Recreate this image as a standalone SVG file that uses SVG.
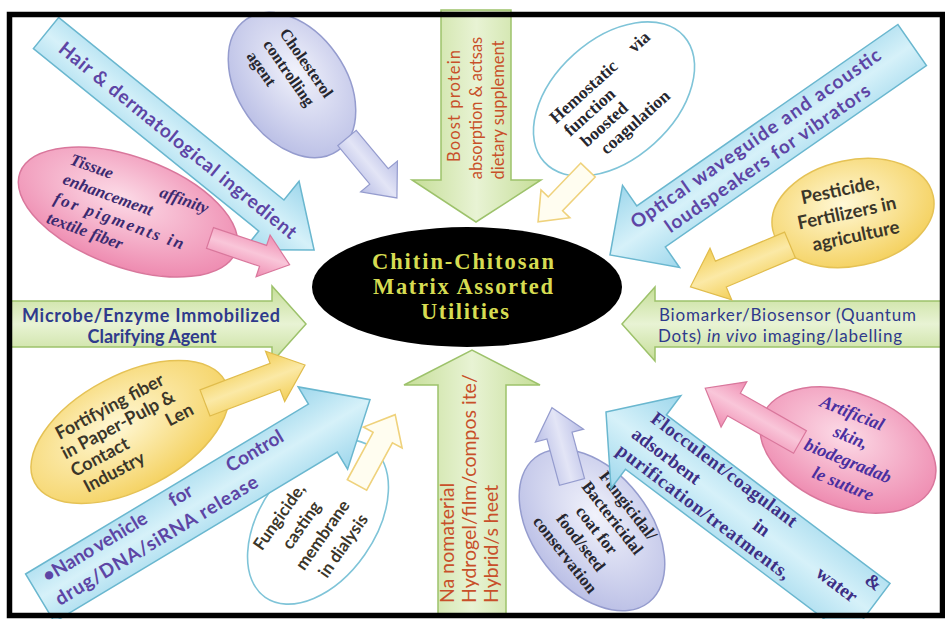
<svg xmlns="http://www.w3.org/2000/svg" width="945" height="619" viewBox="0 0 945 619">
<defs>
<linearGradient id="gBlue" x1="0" y1="0" x2="0" y2="1"><stop offset="0" stop-color="#9ed7ec"/><stop offset="0.5" stop-color="#d6f1f9"/><stop offset="1" stop-color="#9ed7ec"/></linearGradient>
<linearGradient id="gGreenH" x1="0" y1="0" x2="0" y2="1"><stop offset="0" stop-color="#c6de98"/><stop offset="0.5" stop-color="#e8f3d4"/><stop offset="1" stop-color="#c6de98"/></linearGradient>
<linearGradient id="gGreenV" x1="0" y1="0" x2="1" y2="0"><stop offset="0" stop-color="#c6de98"/><stop offset="0.5" stop-color="#e8f3d4"/><stop offset="1" stop-color="#c6de98"/></linearGradient>
<radialGradient id="rLav" cx="0.45" cy="0.4" r="0.7"><stop offset="0" stop-color="#f1f2fb"/><stop offset="1" stop-color="#b4b9e3"/></radialGradient>
<radialGradient id="rPink" cx="0.45" cy="0.4" r="0.7"><stop offset="0" stop-color="#fcdbe7"/><stop offset="1" stop-color="#ec7fa8"/></radialGradient>
<radialGradient id="rYel" cx="0.45" cy="0.4" r="0.7"><stop offset="0" stop-color="#fff8d6"/><stop offset="1" stop-color="#f3cc50"/></radialGradient>
<linearGradient id="aLav" x1="0" y1="0" x2="0" y2="1"><stop offset="0" stop-color="#b9bee6"/><stop offset="0.5" stop-color="#e3e5f6"/><stop offset="1" stop-color="#b9bee6"/></linearGradient>
<linearGradient id="aPink" x1="0" y1="0" x2="0" y2="1"><stop offset="0" stop-color="#ef8db2"/><stop offset="0.5" stop-color="#f9c6d9"/><stop offset="1" stop-color="#ef8db2"/></linearGradient>
<linearGradient id="aYel" x1="0" y1="0" x2="0" y2="1"><stop offset="0" stop-color="#f3cf58"/><stop offset="0.5" stop-color="#fbe9a6"/><stop offset="1" stop-color="#f3cf58"/></linearGradient>
</defs>
<style>
.band{fill:url(#gBlue);stroke:#6ab7cf;stroke-width:1.5}
.grn{stroke:#9dc26b;stroke-width:1.5}
.lav{fill:url(#rLav);stroke:#959cce;stroke-width:1.5}
.pnk{fill:url(#rPink);stroke:#d9779c;stroke-width:1.5}
.yel{fill:url(#rYel);stroke:#e5c255;stroke-width:1.5}
.wht{fill:#fff;stroke:#7fc4d8;stroke-width:1.6}
.lavA{fill:url(#aLav);stroke:#959cce;stroke-width:1.2}
.pnkA{fill:url(#aPink);stroke:#d9779c;stroke-width:1.2}
.yelA{fill:url(#aYel);stroke:#e0bc4c;stroke-width:1.2}
.whA{fill:#fffdf0;stroke:#efd27c;stroke-width:1.6}
.bt{font-family:Lato,'Liberation Sans',sans-serif;font-weight:700;font-size:19px;fill:#5d45a5}
.ft{font-family:'Liberation Serif',serif;font-weight:700;font-size:19px;fill:#3d2f86}
.gt{font-family:Lato,'Liberation Sans',sans-serif;font-size:16.5px;fill:#c8502a}
.ht{font-family:Lato,'Liberation Sans',sans-serif;font-weight:700;font-size:18px;fill:#2f3a8c}
.bm{font-family:Lato,'Liberation Sans',sans-serif;font-size:17px;fill:#2f3a8c}
.st{font-family:'Liberation Serif',serif;font-weight:700;font-size:16.5px;fill:#26262e}
.it{font-family:'Liberation Serif',serif;font-weight:700;font-style:italic;font-size:17px;fill:#3b2a70}
.yt{font-family:Lato,'Liberation Sans',sans-serif;font-weight:700;font-size:18px;fill:#3b3629}
.ct{font-family:'Liberation Serif',serif;font-weight:700;font-size:22.5px;fill:#d6dc52}
</style>
<rect x="0" y="0" width="945" height="619" fill="#fff"/>

<g id="tissue" transform="translate(128,212) rotate(20)">
<ellipse class="pnk" rx="115" ry="55"/>
<text class="it" x="-72" y="-25">Tissue</text><text class="it" x="74" y="-25" text-anchor="end">affinity</text>
<text class="it" x="-72" y="-4">enhancement</text>
<text class="it" x="-74" y="17" textLength="137">for pigments in</text>
<text class="it" x="-74" y="38">textile fiber</text>
</g>
<g id="cholesterol" transform="translate(292,85) rotate(55)">
<ellipse class="lav" rx="80" ry="54"/>
<text class="st" x="-50" y="-19">Cholesterol</text>
<text class="st" x="-50" y="1">controlling</text>
<text class="st" x="-50" y="21">agent</text>
</g>
<g id="hemostatic" transform="translate(614,99) rotate(-42)">
<ellipse class="wht" rx="94" ry="60"/>
<text class="st" style="font-size:17.5px" x="-60" y="-20">Hemostatic</text><text class="st" style="font-size:17.5px" x="68" y="-20" text-anchor="end">via</text>
<text class="st" style="font-size:17.5px" x="-58" y="-1">function</text>
<text class="st" style="font-size:17.5px" x="-53" y="18">boosted</text>
<text class="st" style="font-size:17.5px" x="-43" y="37">coagulation</text>
</g>
<g id="pesticide" transform="translate(853,213) rotate(-12)">
<ellipse class="yel" rx="82" ry="53"/>
<text class="yt" style="font-size:18.5px" x="-8" y="-19" text-anchor="middle">Pesticide,</text>
<text class="yt" style="font-size:18.5px" x="-6" y="5" text-anchor="middle">Fertilizers in</text>
<text class="yt" style="font-size:18.5px" x="-2" y="29" text-anchor="middle">agriculture</text>
</g>
<g id="artificial" transform="translate(848,450) rotate(22)">
<ellipse class="pnk" rx="92" ry="57"/>
<text class="it" style="font-size:18px;fill:#4a2fa0" x="-10" y="-30" text-anchor="middle">Artificial</text>
<text class="it" style="font-size:18px;fill:#4a2fa0" x="-2" y="-7" text-anchor="middle">skin,</text>
<text class="it" style="font-size:18px;fill:#4a2fa0" x="4" y="16" text-anchor="middle">biodegradab</text>
<text class="it" style="font-size:18px;fill:#4a2fa0" x="8" y="39" text-anchor="middle">le suture</text>
</g>
<g id="fungicidal" transform="translate(592,530) rotate(52)">
<ellipse class="lav" rx="92" ry="58"/>
<text class="st" style="font-size:17px" x="3" y="-38" text-anchor="middle">Fungicidal/</text>
<text class="st" style="font-size:17px" x="3" y="-18" text-anchor="middle">Bactericidal</text>
<text class="st" style="font-size:17px" x="3" y="2" text-anchor="middle">coat for</text>
<text class="st" style="font-size:17px" x="3" y="22" text-anchor="middle">food/seed</text>
<text class="st" style="font-size:17px" x="3" y="42" text-anchor="middle">conservation</text>
</g>
<g id="fungicide" transform="translate(318,522) rotate(-55)">
<ellipse class="wht" rx="92" ry="57"/>
<text class="yt" style="font-size:17px" x="-18" y="-29" text-anchor="middle">Fungicide,</text>
<text class="yt" style="font-size:17px" x="-12" y="-6" text-anchor="middle">casting</text>
<text class="yt" style="font-size:17px" x="-8" y="17" text-anchor="middle">membrane</text>
<text class="yt" style="font-size:17px" x="-5" y="40" text-anchor="middle">in dialysis</text>
</g>
<g id="fortifying" transform="translate(130,432) rotate(-28)">
<ellipse class="yel" rx="108" ry="57"/>
<text class="yt" x="-66" y="-26">Fortifying fiber</text>
<text class="yt" x="-70" y="-6">in Paper-Pulp &amp;</text>
<text class="yt" x="-70" y="14">Contact</text><text class="yt" x="66" y="14" text-anchor="end">Len</text>
<text class="yt" x="-66" y="34">Industry</text>
</g>

<g id="hair" transform="translate(46,33) rotate(39)">
<path class="band" d="M0,-20H290V-44L345,0L290,44V20H0Z"/>
<text class="bt" x="20" y="7" textLength="300">Hair &amp; dermatological ingredient</text>
</g>
<g id="boost">
<path class="grn" fill="url(#gGreenV)" d="M441,10H511V180H541L476,222L412,180H441Z"/>
<text class="gt" text-anchor="middle" transform="translate(460,106) rotate(-90)" textLength="112">Boost protein</text>
<text class="gt" text-anchor="middle" transform="translate(482,108) rotate(-90)">absorption &amp; actsas</text>
<text class="gt" text-anchor="middle" transform="translate(504,110) rotate(-90)">dietary supplement</text>
</g>
<g id="optical" transform="translate(610,255) rotate(-34.8)">
<path class="band" d="M0,0L50,-50V-25H368V25H50V50Z"/>
<text class="bt" x="36" y="-6" textLength="300">Optical waveguide and acoustic</text>
<text class="bt" x="62" y="17" textLength="245">loudspeakers for vibrators</text>
</g>
<g id="microbe">
<path class="grn" fill="url(#gGreenH)" d="M10,301H272V286L306,324L272,362V347H10Z"/>
<text class="ht" x="22" y="322" textLength="258">Microbe/Enzyme Immobilized</text>
<text class="ht" x="152" y="343" text-anchor="middle">Clarifying Agent</text>
</g>
<g id="biomarker">
<path class="grn" fill="url(#gGreenH)" d="M942,301H655V287L622,324L655,361V347H942Z"/>
<text class="bm" x="659" y="321" textLength="257">Biomarker/Biosensor (Quantum</text>
<text class="bm" x="658" y="342" textLength="244">Dots) <tspan font-style="italic">in vivo</tspan> imaging/labelling</text>
</g>
<g id="nano" transform="translate(40,598) rotate(-31)">
<path class="band" d="M0,-28H330V-48L385,0L330,48V28H0Z"/>
<text class="bt" y="-9"><tspan x="14">•Nano</tspan><tspan x="73">vehicle</tspan><tspan x="161">for</tspan><tspan x="228">Control</tspan></text>
<text class="bt" x="13" y="17" textLength="233">drug/DNA/siRNA release</text>
</g>
<g id="nanomaterial">
<path class="grn" fill="url(#gGreenV)" d="M438,616V385H404L472,350L540,385H506V616Z"/>
<text class="gt" style="font-size:19.5px" transform="translate(454,603) rotate(-90)">Na nomaterial</text>
<text class="gt" style="font-size:19.5px" transform="translate(476,603) rotate(-90)">Hydrogel/film/compos ite/</text>
<text class="gt" style="font-size:19.5px" transform="translate(498,603) rotate(-90)">Hybrid/s heet</text>
</g>
<g id="flocculent" transform="translate(606,412) rotate(37)">
<path class="band" d="M0,0L50,-58V-34H330V34H50V58Z"/>
<text class="ft" x="40" y="-19" textLength="178">Flocculent/coagulant</text>
<text class="ft" x="308" y="-19">&amp;</text>
<text class="ft" x="34" y="5">adsorbent</text>
<text class="ft" x="186" y="5">in</text>
<text class="ft" x="265" y="5">water</text>
<text class="ft" x="32" y="27" textLength="212">purification/treatments,</text>
</g>

<g id="connectors">
<path class="lavA" transform="translate(347,138) rotate(50.2)" d="M0,-12H50V-24L78,0L50,24V12H0Z"/>
<path class="whA" transform="translate(588,170) rotate(133.9)" d="M0,-10H47V-20L72,0L47,20V10H0Z"/>
<path class="yelA" transform="translate(790,245) rotate(157.2)" d="M0,-14H75V-28L108,0L75,28V14H0Z"/>
<path class="pnkA" transform="translate(800,442) rotate(209.6)" d="M0,-13H76V-26L109,0L76,26V13H0Z"/>
<path class="lavA" transform="translate(572,482) rotate(-105.1)" d="M0,-13H48V-25L77,0L48,25V13H0Z"/>
<path class="whA" transform="translate(357,485) rotate(-61.5)" d="M0,-11H54V-22L80,0L54,22V11H0Z"/>
<path class="yelA" transform="translate(205,403) rotate(-20.8)" d="M0,-14H75V-27L107,0L75,27V14H0Z"/>
<path class="pnkA" transform="translate(210,238) rotate(18.6)" d="M0,-11H56V-22L84,0L56,22V11H0Z"/>
</g>

<g id="center">
<ellipse cx="467" cy="287" rx="155" ry="60" fill="#000"/>
<text class="ct" x="463" y="269" text-anchor="middle" textLength="182">Chitin-Chitosan</text>
<text class="ct" x="463" y="294" text-anchor="middle" textLength="180">Matrix Assorted</text>
<text class="ct" x="465" y="319" text-anchor="middle" textLength="88">Utilities</text>
</g>
<rect x="9.5" y="14.5" width="933" height="601" fill="none" stroke="#000" stroke-width="5.5"/>
</svg>
